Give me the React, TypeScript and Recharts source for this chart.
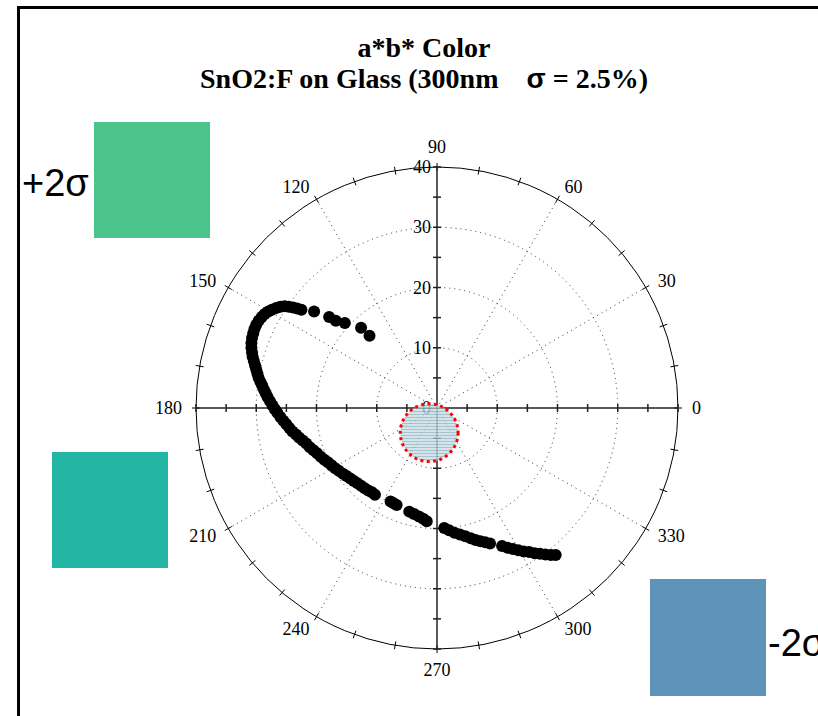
import React from 'react';
import { ScatterChart, Scatter, XAxis, YAxis, ReferenceArea } from 'recharts';

// a* and b* coordinates of the measured colour track (CIELAB units)
const aStar = [
  -11.2, -12.6,
  -15.3, -16.8, -17.9,
  -20.4,
  -22.5, -23.2, -23.9, -24.6, -25.3, -26.0, -26.7, -27.4, -28.0, -28.6,
  -29.1, -29.6, -30.0, -30.3, -30.5, -30.7, -30.8, -30.8, -30.7, -30.6,
  -30.4, -30.2, -30.0, -29.8, -29.6, -29.3, -29.0, -28.7, -28.4, -28.1,
  -27.7, -27.3, -26.9, -26.5, -26.0, -25.5, -25.0, -24.5, -24.0, -23.4,
  -22.9, -22.3, -21.7, -21.1, -20.5, -19.9, -19.3, -18.7, -18.1, -17.5,
  -16.9, -16.3, -15.6, -15.0, -14.4, -13.8, -13.2, -12.6, -12.0, -11.4,
  -10.8, -10.3,
  -7.7, -7.2, -6.7,
  -4.6, -3.8, -3.0, -2.3, -1.7,
  1.2, 2.0, 2.9, 3.8, 4.7, 5.6, 6.4, 7.2, 8.0, 8.8,
  10.8, 11.7, 12.6, 13.5, 14.4, 15.3, 16.2, 17.1, 18.0, 18.9, 19.7,
];
const bStar = [
  12.0, 13.3,
  14.1, 14.5, 15.1,
  16.0,
  16.3, 16.5, 16.7, 16.8, 16.9, 16.8, 16.6, 16.3, 16.0, 15.6,
  15.1, 14.5, 13.8, 13.1, 12.4, 11.6, 10.8, 10.0, 9.2, 8.5,
  7.8, 7.1, 6.4, 5.7, 5.0, 4.3, 3.7, 3.0, 2.4, 1.8,
  1.1, 0.4, -0.2, -0.8, -1.5, -2.1, -2.7, -3.3, -3.9, -4.4,
  -4.9, -5.4, -5.9, -6.5, -7.0, -7.5, -8.1, -8.6, -9.0, -9.5,
  -10.0, -10.4, -10.9, -11.3, -11.7, -12.1, -12.5, -12.9, -13.3, -13.7,
  -14.0, -14.4,
  -15.5, -15.8, -16.1,
  -17.2, -17.6, -18.0, -18.4, -18.8,
  -19.9, -20.3, -20.7, -21.0, -21.3, -21.6, -21.9, -22.1, -22.3, -22.5,
  -22.9, -23.2, -23.4, -23.6, -23.8, -23.9, -24.1, -24.2, -24.3, -24.4, -24.4,
];
const track = aStar.map((a, i) => ({ a, b: bStar[i] }));

// polar frame definition
const radiusMax = 40;
const ringRadii = [10, 20, 30];
const radiusLabels = [0, 10, 20, 30, 40];
const angleLabels = [0, 30, 60, 90, 120, 150, 180, 210, 240, 270, 300, 330];
const spokeAngles = [30, 60, 120, 150, 210, 240, 300, 330];
const rimTickAngles = [
  0, 10, 20, 30, 40, 50, 60, 70, 80, 90, 100, 110, 120, 130, 140, 150, 160, 170,
  180, 190, 200, 210, 220, 230, 240, 250, 260, 270, 280, 290, 300, 310, 320, 330, 340, 350,
];
const axisTicks = [-40, -35, -30, -25, -20, -15, -10, -5, 5, 10, 15, 20, 25, 30, 35, 40];

// ±2σ tolerance disc around the nominal colour
const toleranceA = -1.3;
const toleranceB = -4.1;
const toleranceR = 4.8;

const titleLine1 = 'a*b* Color';
const titleLine2 = 'SnO2:F on Glass (300nm    ';
const titleSigma = 'σ';
const titleLine2End = ' = 2.5%)';

const swatchHigh = { label: '+2σ', color: '#4AC48B' };
const swatchNominal = { color: '#22B5A3' };
const swatchLow = { label: '-2σ', color: '#5D93B8' };

const serif = '"Liberation Serif", "Times New Roman", serif';
const sans = '"Liberation Sans", Arial, sans-serif';

const rad = (deg: number) => (deg * Math.PI) / 180;

function PolarFrame(props: any) {
  const { x, y, width, height } = props;
  const cx = x + width / 2;
  const cy = y + height / 2;
  const R = width / 2;
  const k = R / radiusMax;
  const dotted = { stroke: '#333', strokeWidth: 1, strokeDasharray: '1 4', fill: 'none' };
  return (
    <g>
      {ringRadii.map((r) => (
        <circle key={`ring-${r}`} cx={cx} cy={cy} r={r * k} {...dotted} />
      ))}
      {spokeAngles.map((d) => (
        <line
          key={`spoke-${d}`}
          x1={cx}
          y1={cy}
          x2={cx + R * Math.cos(rad(d))}
          y2={cy - R * Math.sin(rad(d))}
          {...dotted}
        />
      ))}
      <circle cx={cx} cy={cy} r={R} fill="none" stroke="#000" strokeWidth={1} />
      {rimTickAngles.map((d) => (
        <line
          key={`rim-${d}`}
          x1={cx + (R - 4) * Math.cos(rad(d))}
          y1={cy - (R - 4) * Math.sin(rad(d))}
          x2={cx + (R + 4) * Math.cos(rad(d))}
          y2={cy - (R + 4) * Math.sin(rad(d))}
          stroke="#000"
          strokeWidth={1}
        />
      ))}
      <line x1={cx - R} y1={cy} x2={cx + R} y2={cy} stroke="#222" strokeWidth={1.5} />
      <line x1={cx} y1={cy - R} x2={cx} y2={cy + R} stroke="#222" strokeWidth={1.5} />
      {axisTicks.map((v) => (
        <g key={`tick-${v}`}>
          <line x1={cx + v * k} y1={cy - 4} x2={cx + v * k} y2={cy + 4} stroke="#222" strokeWidth={1.5} />
          <line x1={cx - 4} y1={cy - v * k} x2={cx + 4} y2={cy - v * k} stroke="#222" strokeWidth={1.5} />
        </g>
      ))}
      {radiusLabels.map((v) => (
        <text
          key={`rl-${v}`}
          x={cx - 6}
          y={cy - v * k}
          textAnchor="end"
          dominantBaseline="central"
          fontFamily={serif}
          fontSize={18}
          fill="#000"
        >
          {v}
        </text>
      ))}
      {angleLabels.map((d) => {
        const c = Math.cos(rad(d));
        const s = Math.sin(rad(d));
        const px = cx + (R + 14) * c;
        const py = cy - (R + 14) * s;
        const anchor = c > 0.01 ? 'start' : c < -0.01 ? 'end' : 'middle';
        const baseline = s > 0.99 ? 'auto' : s < -0.99 ? 'hanging' : 'central';
        return (
          <text
            key={`al-${d}`}
            x={px}
            y={py}
            textAnchor={anchor}
            dominantBaseline={baseline}
            fontFamily={serif}
            fontSize={18}
            fill="#000"
          >
            {d}
          </text>
        );
      })}
    </g>
  );
}

function ToleranceDisc(props: any) {
  const { x, y, width, height } = props;
  return (
    <g>
      <defs>
        <pattern id="tolHatch" width={4} height={3} patternUnits="userSpaceOnUse">
          <rect x={0} y={0} width={4} height={3} fill="#c9dde6" />
          <line x1={0} y1={0.5} x2={4} y2={0.5} stroke="#93b3c3" strokeWidth={1} />
        </pattern>
      </defs>
      <ellipse
        cx={x + width / 2}
        cy={y + height / 2}
        rx={width / 2}
        ry={height / 2}
        fill="url(#tolHatch)"
        fillOpacity={0.8}
        stroke="#ff0000"
        strokeWidth={3}
        strokeDasharray="3 3.4"
      />
    </g>
  );
}

const TrackDot = (props: any) => <circle cx={props.cx} cy={props.cy} r={6} fill="#000" />;

export default function App() {
  return (
    <div
      style={{
        position: 'fixed',
        left: 0,
        top: 0,
        width: 818,
        height: 716,
        overflow: 'hidden',
        background: '#fff',
      }}
    >
      <svg width={818} height={716} style={{ position: 'absolute', left: 0, top: 0 }}>
        <rect x={18.5} y={7.5} width={900} height={900} fill="none" stroke="#000" strokeWidth={3} />
        <text x={424} y={57} textAnchor="middle" fontFamily={serif} fontWeight="bold" fontSize={28} fill="#000">
          {titleLine1}
        </text>
        <text
          x={424}
          y={88}
          textAnchor="middle"
          fontFamily={serif}
          fontWeight="bold"
          fontSize={28}
          fill="#000"
          style={{ whiteSpace: 'pre' }}
        >
          {titleLine2}
          <tspan fontFamily={sans}>{titleSigma}</tspan>
          {titleLine2End}
        </text>
        <rect x={94} y={122} width={116} height={116} fill={swatchHigh.color} />
        <text x={22} y={196} fontFamily={sans} fontSize={38} fill="#000">
          {swatchHigh.label}
        </text>
        <rect x={52} y={452} width={116} height={116} fill={swatchNominal.color} />
        <rect x={650} y={579} width={116} height={117} fill={swatchLow.color} />
        <text x={768} y={656} fontFamily={sans} fontSize={38} fill="#000">
          {swatchLow.label}
        </text>
      </svg>
      <div style={{ position: 'absolute', left: 0, top: 0 }}>
        <ScatterChart width={818} height={716} margin={{ top: 167, right: 140, bottom: 67, left: 196 }}>
          <XAxis type="number" dataKey="a" domain={[-radiusMax, radiusMax]} hide allowDataOverflow />
          <YAxis type="number" dataKey="b" domain={[-radiusMax, radiusMax]} hide allowDataOverflow />
          <ReferenceArea
            x1={-radiusMax}
            x2={radiusMax}
            y1={-radiusMax}
            y2={radiusMax}
            shape={PolarFrame}
            ifOverflow="visible"
          />
          <Scatter data={track} isAnimationActive={false} shape={TrackDot} />
          <ReferenceArea
            x1={toleranceA - toleranceR}
            x2={toleranceA + toleranceR}
            y1={toleranceB - toleranceR}
            y2={toleranceB + toleranceR}
            shape={ToleranceDisc}
            ifOverflow="visible"
          />
        </ScatterChart>
      </div>
    </div>
  );
}
